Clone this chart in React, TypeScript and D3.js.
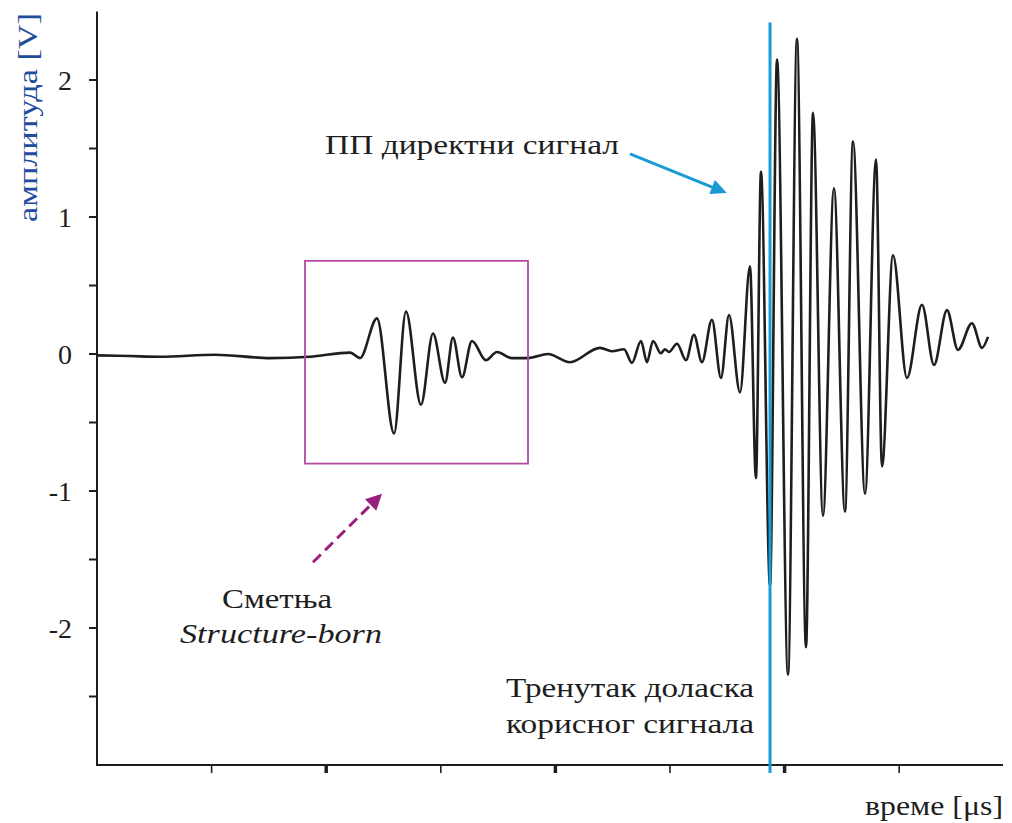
import React from "react";
import * as d3 from "d3";

// ---- data ----
const timeUs = [
  0, 2.88, 5.5, 10.3, 15.1, 18.59, 22.08, 22.95, 24.43, 25.92, 26.96, 28.27, 29.32, 30.37,
  31.06, 31.85, 32.72, 33.94, 34.9, 36.21, 37.61, 39.35, 41.27, 43.89, 44.94, 45.99, 46.68,
  47.47, 47.99, 48.52, 49.21, 49.56, 49.91, 50.61, 51.4, 52.09, 52.79, 53.66, 54.45, 55.15,
  56.11, 56.98, 57.5, 57.94, 58.73, 59.34, 60.3, 61.08, 61.87, 62.48, 63.35, 64.31, 65.27,
  65.97, 67.02, 67.98, 68.5, 69.46, 70.68, 71.99, 73.04, 74.17, 75.13, 76.35, 77.23, 77.75,
];
const amplitudeV = [
  -0.01, -0.015, -0.02, -0.005, -0.03, -0.02, 0.01, -0.03, 0.26, -0.58, 0.31, -0.37, 0.15, -0.21,
  0.12, -0.17, 0.095, -0.045, 0.015, -0.03, -0.03, 0.0, -0.06, 0.045, 0.02, 0.035, -0.065,
  0.095, -0.06, 0.095, 0.005, 0.035, 0.015, 0.075, -0.045, 0.14, -0.06, 0.25, -0.175, 0.285,
  -0.28, 0.64, -0.905, 1.33, -1.69, 2.15, -2.34, 2.3, -2.14, 1.76, -1.18, 1.21, -1.15,
  1.55, -1.02, 1.42, -0.82, 0.72, -0.175, 0.36, -0.08, 0.32, 0.03, 0.225, 0.045, 0.125,
];
const yMajorTicks = [-2, -1, 0, 1, 2];
const yMinorTicks = [-2.5, -1.5, -0.5, 0.5, 1.5];
const xTicks = [10, 20, 30, 40, 50, 60, 70];
const xThickTicks = [20, 40, 60];
const arrivalTime = 58.73;
const disturbanceBox = { t0: 18.15, t1: 37.61, v0: -0.8, v1: 0.68 };
const disturbanceArrow = { t0: 18.85, v0: -1.52, t1: 24.87, v1: -1.02 };
const directArrow = { t0: 46.51, v0: 1.46, t1: 54.97, v1: 1.175 };

const FONT = '"Liberation Serif", "DejaVu Serif", serif';
const BLUE = "#1b9ad6";
const INK = "#1e1e1e";

function arrowHead(x0: number, y0: number, x1: number, y1: number, len: number, half: number) {
  const dx = x1 - x0, dy = y1 - y0;
  const L = Math.hypot(dx, dy);
  const ux = dx / L, uy = dy / L;
  const bx = x1 - ux * len, by = y1 - uy * len;
  const px = -uy, py = ux;
  return {
    points: `${x1},${y1} ${bx + px * half},${by + py * half} ${bx - px * half},${by - py * half}`,
    bx, by,
  };
}

export default function App() {
  const W = 1012, H = 823;
  const x = d3.scaleLinear().domain([0, 79.06]).range([97, 1003]);
  const y = d3.scaleLinear().domain([-3, 2.5]).range([765, 11.5]);
  const pts = timeUs.map((t, i) => [t, amplitudeV[i]] as [number, number]);
  const line = d3
    .line<[number, number]>()
    .x((d) => x(d[0]))
    .y((d) => y(d[1]))
    .curve(d3.curveMonotoneX);

  const da = disturbanceArrow;
  const dh = arrowHead(x(da.t0), y(da.v0), x(da.t1), y(da.v1), 16, 8);
  const ba = directArrow;
  const bh = arrowHead(x(ba.t0), y(ba.v0), x(ba.t1), y(ba.v1), 16, 7.5);
  const fit = { lengthAdjust: "spacingAndGlyphs" as const };

  return (
    <svg
      width={W}
      height={H}
      style={{ position: "absolute", left: 0, top: 0, background: "#fff" }}
    >
      {/* waveform */}
      <path d={line(pts) || ""} fill="none" stroke={INK} strokeWidth={2.6} strokeLinejoin="round" />

      {/* disturbance box */}
      <rect
        x={x(disturbanceBox.t0)}
        y={y(disturbanceBox.v1)}
        width={x(disturbanceBox.t1) - x(disturbanceBox.t0)}
        height={y(disturbanceBox.v0) - y(disturbanceBox.v1)}
        fill="none"
        stroke="#b24aa0"
        strokeWidth={1.8}
      />
      {/* dashed arrow */}
      <line
        x1={x(da.t0)}
        y1={y(da.v0)}
        x2={dh.bx}
        y2={dh.by}
        stroke="#9a1e7e"
        strokeWidth={3}
        strokeDasharray="11 6"
      />
      <polygon points={dh.points} fill="#9a1e7e" />

      {/* axes */}
      <line x1={x(0)} x2={x(0)} y1={y(2.5)} y2={y(-3)} stroke={INK} strokeWidth={2} />
      <line x1={x(0) - 1} x2={x(79.06)} y1={y(-3)} y2={y(-3)} stroke={INK} strokeWidth={2} />
      {yMajorTicks.concat(yMinorTicks).map((v) => (
        <line key={"yt" + v} x1={x(0) - 8} x2={x(0)} y1={y(v)} y2={y(v)} stroke={INK} strokeWidth={2} />
      ))}
      {xTicks.map((t) => (
        <line
          key={"xt" + t}
          x1={x(t)}
          x2={x(t)}
          y1={y(-3)}
          y2={y(-3) + 8}
          stroke={INK}
          strokeWidth={xThickTicks.includes(t) ? 3.5 : 1.6}
        />
      ))}

      {/* arrival line */}
      <line x1={x(arrivalTime)} x2={x(arrivalTime)} y1={y(2.42)} y2={y(-3) + 8} stroke={BLUE} strokeWidth={3} />

      {/* direct signal arrow */}
      <line x1={x(ba.t0)} y1={y(ba.v0)} x2={bh.bx} y2={bh.by} stroke={BLUE} strokeWidth={3} />
      <polygon points={bh.points} fill={BLUE} />

      {/* texts */}
      <g style={{ fontFamily: FONT }} fill={INK}>
        {yMajorTicks.map((v) => (
          <text key={"yl" + v} x={72} y={y(v)} dy="0.35em" textAnchor="end" fontSize={28}>
            {v < 0 ? "-" + Math.abs(v) : String(v)}
          </text>
        ))}
        <text x={325} y={154} fontSize={28} textLength={294} {...fit}>ПП директни сигнал</text>
        <text x={222} y={608} fontSize={28} textLength={110} {...fit}>Сметња</text>
        <text x={180} y={643} fontSize={28} fontStyle="italic" textLength={202} {...fit}>Structure-born</text>
        <text x={506} y={697} fontSize={28} textLength={248} {...fit}>Тренутак доласка</text>
        <text x={506} y={733} fontSize={28} textLength={248} {...fit}>корисног сигнала</text>
        <text x={865} y={815} fontSize={28} textLength={138} {...fit}>време [μs]</text>
        <text
          transform={`translate(37, 222) rotate(-90)`}
          fontSize={28}
          fill="#1f4c9c"
          textLength={209}
          {...fit}
        >
          амплитуда [V]
        </text>
      </g>
    </svg>
  );
}
